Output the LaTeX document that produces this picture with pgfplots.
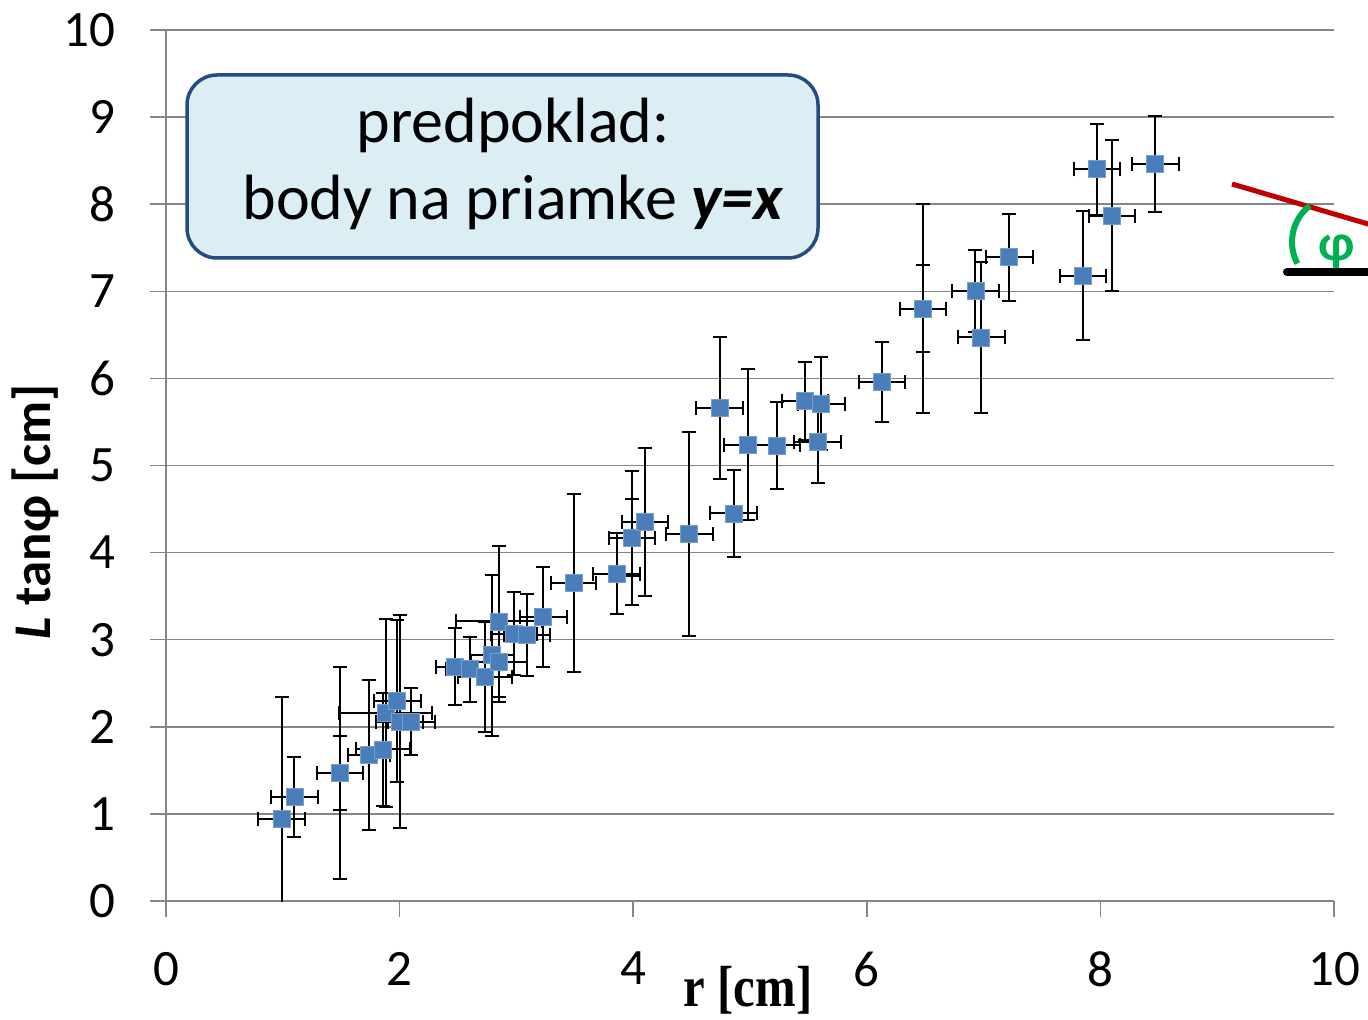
\documentclass[border=0pt]{standalone}
\usepackage{fontspec}
\setmainfont{Carlito}
\newfontfamily\xlabfont[FakeStretch=0.84]{Liberation Serif}
\usepackage{pgfplots}
\pgfplotsset{compat=1.18}
\usepackage{pgfplotstable}
\definecolor{gridgray}{HTML}{868686}
\definecolor{ptblue}{HTML}{4A7EBB}
\definecolor{boxfill}{HTML}{DBEEF4}
\definecolor{boxdraw}{HTML}{254C7E}
\definecolor{redl}{HTML}{C00000}
\definecolor{greenl}{HTML}{00B050}

\pgfplotstableread{
x y ex ey
0.99 0.94 0.20 1.40
1.10 1.19 0.20 0.46
1.49 1.47 0.20 1.22
1.49 1.47 0.20 0.43
1.74 1.68 0.18 0.86
1.86 1.74 0.23 0.65
1.88 2.16 0.40 1.08
1.98 2.30 0.20 0.93
2.00 2.06 0.20 1.22
2.10 2.06 0.20 0.38
2.47 2.69 0.16 0.44
2.60 2.66 0.20 0.37
2.73 2.57 0.23 0.63
2.79 2.82 0.19 0.92
2.85 2.74 0.24 0.45
2.85 3.21 0.37 0.87
2.98 3.07 0.20 0.48
3.09 3.05 0.20 0.47
3.23 3.26 0.20 0.57
3.49 3.65 0.19 1.02
3.86 3.76 0.20 0.46
3.99 4.17 0.20 0.77
3.99 4.17 0.20 0.44
4.10 4.35 0.20 0.85
4.48 4.21 0.20 1.17
4.74 5.66 0.20 0.82
4.86 4.45 0.20 0.50
4.98 5.24 0.20 0.87
5.23 5.23 0.20 0.50
5.47 5.74 0.20 0.45
5.61 5.71 0.20 0.53
5.58 5.27 0.20 0.47
6.13 5.96 0.20 0.46
6.48 6.80 0.20 1.20
6.48 6.80 0.20 0.50
6.93 7.00 0.20 0.47
6.98 6.47 0.20 0.87
7.22 7.39 0.20 0.50
7.85 7.18 0.20 0.74
7.97 8.40 0.20 0.52
8.10 7.87 0.20 0.87
8.47 8.46 0.20 0.55
}\data

\begin{document}
\begin{tikzpicture}[x=0.5pt,y=0.5pt]
\path[use as bounding box] (0,0) rectangle (1368,1019);
\clip (0,0) rectangle (1368,1019);
\begin{axis}[
  at={(83pt,59pt)}, anchor=south west,
  scale only axis, width=584pt, height=435.5pt,
  xmin=0, xmax=10, ymin=0, ymax=10,
  xtick={0,2,...,10}, ytick={0,1,...,10},
  axis lines=left,
  axis line style={-, gridgray, line width=0.75pt},
  tick align=outside, major tick length=8pt,
  tick style={gridgray, line width=0.75pt},
  ymajorgrids, grid style={gridgray, line width=0.75pt},
  ticklabel style={font=\fontsize{25.5}{30}\selectfont},
  xticklabel style={yshift=-14pt},
  yticklabel style={xshift=-14pt},
  /pgf/number format/assume math mode=true,
  xlabel={\xlabfont\bfseries r [cm]},
  ylabel={\bfseries\textit{L} tanφ [cm]},
  every axis x label/.style={at={(axis description cs:0.4983,-0.1022)}, anchor=center, font=\fontsize{29}{34}\selectfont},
  every axis y label/.style={at={(axis description cs:-0.1122,0.4466)}, rotate=90, anchor=center, font=\fontsize{26.5}{30}\selectfont},
]
\addplot[only marks, mark=square*, mark size=4.25pt,
  mark options={fill=ptblue, draw=ptblue!75!white, line width=0.4pt},
  error bars/.cd, x dir=both, x explicit, y dir=both, y explicit,
  error bar style={black, line width=1pt},
  error mark options={rotate=90, black, line width=1pt, mark size=3.5pt}]
  table[x=x, y=y, x error=ex, y error=ey] {\data};
\end{axis}
% annotation box
\draw[boxdraw, line width=1.75pt, fill=boxfill, rounded corners=15pt] (187,944) rectangle (818,761);
\node[anchor=base, font=\fontsize{32}{38}\selectfont, inner sep=0pt] at (513,876) {predpoklad:};
\node[anchor=base, font=\fontsize{32}{38}\selectfont, inner sep=0pt] at (513,799) {body na priamke \textbf{\textit{y=x}}};
% angle sketch
\draw[redl, line width=2.5pt] (1232,835) -- (1380,791.5);
\draw[black, line width=4pt, line cap=round] (1287,747) -- (1400,747);
\draw[greenl, line width=3pt] (1338,777) ++(128:46) arc[start angle=128, end angle=208, radius=46];
\node[greenl, font=\bfseries\fontsize{26}{30}\selectfont] at (1337,767) {φ};
\end{tikzpicture}
\end{document}
